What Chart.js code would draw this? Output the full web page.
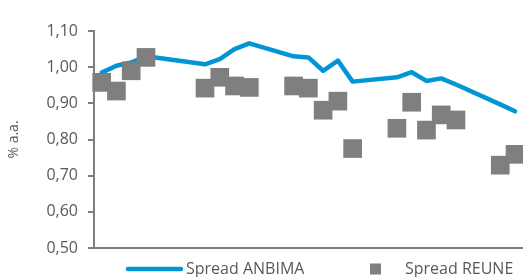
<!DOCTYPE html>
<html>
<head>
<meta charset="utf-8">
<script src="https://cdn.jsdelivr.net/npm/chart.js@4.4.1/dist/chart.umd.min.js"></script>
<style>
  html, body { margin: 0; padding: 0; background: #fff; }
  #wrap { width: 523px; height: 277px; position: relative; }
</style>
</head>
<body>
<div id="wrap"><canvas id="grafico"></canvas></div>
<script>
// dias uteis (posicao no eixo x, dias corridos desde o inicio)
const dias = [0, 1, 2, 3, 7, 8, 9, 10, 13, 14, 15, 16, 17, 20, 21, 22, 23, 24, 27, 28];
const spreadAnbima = [0.985, 1.004, 1.013, 1.030, 1.008, 1.022, 1.050, 1.066, 1.030, 1.027,
                      0.990, 1.018, 0.960, 0.972, 0.986, 0.962, 0.969, 0.952, 0.897, 0.878];
const spreadReune  = [0.958, 0.934, 0.990, 1.027, 0.942, 0.972, 0.948, 0.944, 0.948, 0.942,
                      0.881, 0.906, 0.775, 0.831, 0.903, 0.826, 0.868, 0.854, 0.729, 0.759];
const nomes = ['Spread ANBIMA', 'Spread REUNE'];
const yMin = 0.50, yMax = 1.10, yPasso = 0.10;

const azul = '#0096D6';
const cinza = '#7F7F7F';
const texto = '#595959';
const fonte = '"Open Sans", "Noto Sans", sans-serif';

const pontos = arr => arr.map((v, i) => ({ x: dias[i], y: v }));

// legenda desenhada a mao, igual ao Excel
const legendaBaixo = {
  id: 'legendaBaixo',
  afterDraw(chart) {
    const ctx = chart.ctx;
    const y = 269;
    ctx.save();
    ctx.font = '16px ' + fonte;
    ctx.textBaseline = 'middle';
    ctx.strokeStyle = azul;
    ctx.lineWidth = 4.5;
    ctx.lineCap = 'round';
    ctx.beginPath();
    ctx.moveTo(128, y);
    ctx.lineTo(181, y);
    ctx.stroke();
    ctx.fillStyle = texto;
    ctx.fillText(nomes[0], 186, y);
    ctx.fillStyle = cinza;
    ctx.fillRect(370, y - 5.5, 11, 11);
    ctx.fillStyle = texto;
    ctx.fillText(nomes[1], 405, y);
    ctx.restore();
  }
};

new Chart(document.getElementById('grafico'), {
  data: {
    datasets: [
      {
        type: 'scatter',
        label: nomes[1],
        data: pontos(spreadReune),
        pointStyle: 'rect',
        pointRadius: 13.2,
        pointHoverRadius: 13.2,
        backgroundColor: cinza,
        borderWidth: 0,
        clip: false,
        order: 0
      },
      {
        type: 'line',
        label: nomes[0],
        data: pontos(spreadAnbima),
        borderColor: azul,
        borderWidth: 4.5,
        borderCapStyle: 'round',
        borderJoinStyle: 'round',
        pointRadius: 0,
        tension: 0,
        fill: false,
        order: 1
      }
    ]
  },
  options: {
    responsive: true,
    maintainAspectRatio: false,
    animation: false,
    events: [],
    layout: { autoPadding: false, padding: { top: 31, bottom: 29, right: 0, left: 0 } },
    plugins: { legend: { display: false }, tooltip: { enabled: false } },
    scales: {
      x: {
        type: 'linear',
        min: -0.52,
        max: 28.54,
        ticks: { display: false },
        grid: { display: false, drawTicks: false },
        border: { display: true, color: cinza, width: 2 },
        afterFit: s => { s.height = 0; }
      },
      y: {
        min: yMin,
        max: yMax,
        ticks: {
          stepSize: yPasso,
          padding: 10,
          color: texto,
          font: { family: fonte, size: 16 },
          callback: v => v.toFixed(2).replace('.', ',')
        },
        grid: { drawOnChartArea: false, drawTicks: true, tickLength: 6, color: cinza, lineWidth: 2 },
        border: { display: true, color: cinza, width: 2 },
        title: {
          display: true,
          text: '% a.a.',
          color: texto,
          font: { family: fonte, size: 14 },
          padding: { top: 6, bottom: 0 }
        },
        afterFit: s => { s.width = 94; }
      }
    }
  },
  plugins: [legendaBaixo]
});
</script>
</body>
</html>
